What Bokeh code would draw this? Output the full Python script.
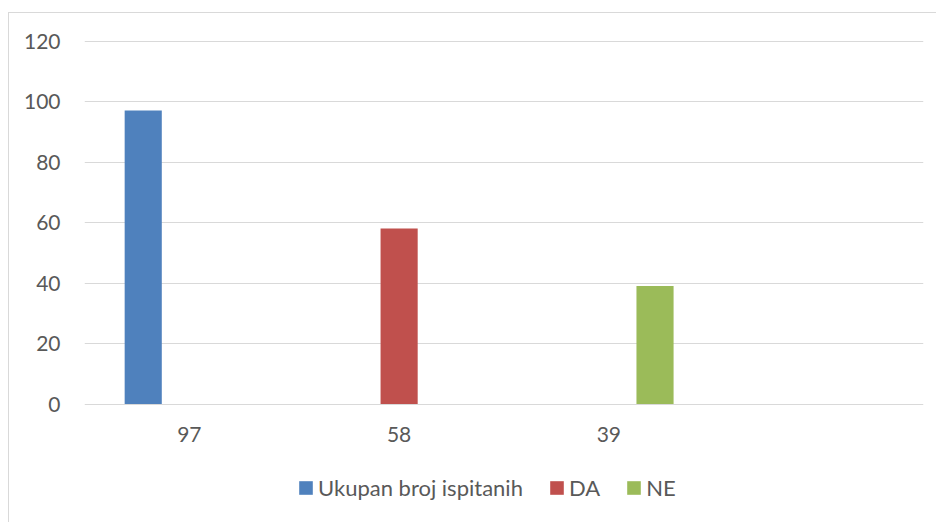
from bokeh.plotting import figure
from bokeh.models import FactorRange, Range1d, ColumnDataSource, Legend, LegendItem
from bokeh.transform import dodge
from bokeh.embed import file_html
from bokeh.resources import INLINE

categories = ["97", "58", "39", " "]
series_names = ["Ukupan broj ispitanih", "DA", "NE"]
ukupan = [97, 0, 0, 0]
da = [0, 58, 0, 0]
ne = [0, 0, 39, 0]
colors = ["#4f81bd", "#c0504d", "#9bbb59"]
y_ticks = [0, 20, 40, 60, 80, 100, 120]

FONT = "Lato"
TXT = "#595959"
GRID = "#d9d9d9"

src = ColumnDataSource(dict(cat=categories, ukupan=ukupan, da=da, ne=ne))

p = figure(x_range=FactorRange(*categories), y_range=Range1d(-39.5, 120.5),
           width=928, height=510, output_backend="svg", toolbar_location=None,
           min_border_left=75, min_border_right=14, min_border_top=26, min_border_bottom=0)
p.margin = (12, 0, 0, 8)
p.styles = {"border-top": "1px solid #d9d9d9", "border-left": "1px solid #d9d9d9"}
p.outline_line_color = None
p.background_fill_color = "white"
p.border_fill_color = "white"

offsets = [-0.22, 0.0, 0.22]
renderers = []
for col, off, c in zip(["ukupan", "da", "ne"], offsets, colors):
    r = p.vbar(x=dodge("cat", off, range=p.x_range), top=col, width=0.177, bottom=0,
               source=src, fill_color=c, line_color=None)
    renderers.append(r)

p.xgrid.grid_line_color = None
p.ygrid.grid_line_color = GRID
p.ygrid.grid_line_width = 1
p.yaxis.ticker = y_ticks
p.xaxis.fixed_location = 0

for ax in (p.xaxis[0], p.yaxis[0]):
    ax.axis_line_color = None
    ax.major_tick_line_color = None
    ax.minor_tick_line_color = None
    ax.major_label_text_font = FONT
    ax.major_label_text_font_size = "21px"
    ax.major_label_text_color = TXT
p.yaxis.major_label_standoff = 18
p.xaxis.major_label_standoff = 11

legend = Legend(items=[LegendItem(label=n, renderers=[r]) for n, r in zip(series_names, renderers)],
                orientation="horizontal", location=(213, 22),
                glyph_width=17, glyph_height=17, label_standoff=4, spacing=25,
                padding=0, margin=0, border_line_color=None, background_fill_alpha=0,
                label_text_font=FONT, label_text_font_size="22px", label_text_color=TXT)
p.add_layout(legend, "center")

open("out.html", "w").write(file_html(p, INLINE))
